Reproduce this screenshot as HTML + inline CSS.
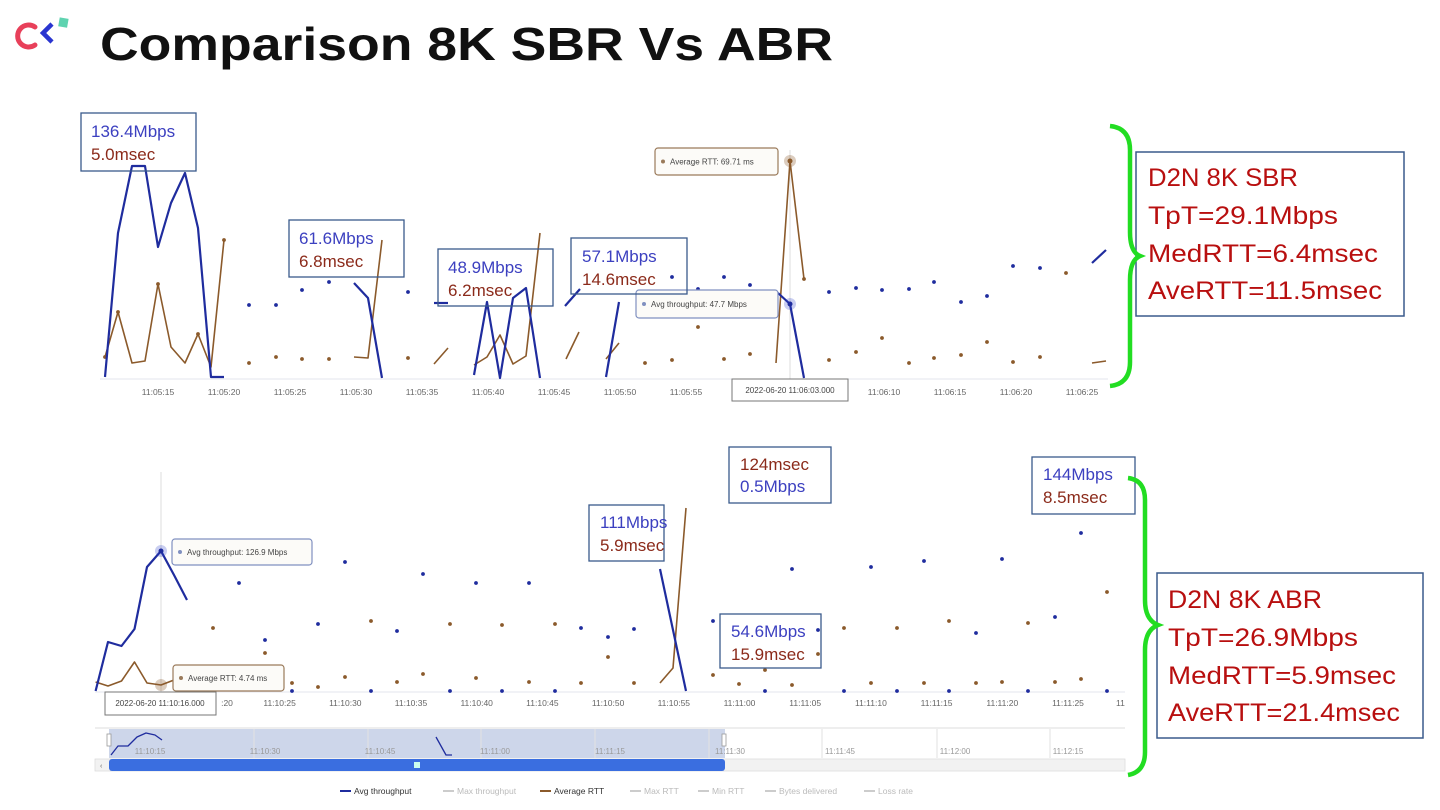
<!DOCTYPE html>
<html><head><meta charset="utf-8"><style>
html,body{margin:0;padding:0;background:#fff;width:1440px;height:810px;overflow:hidden}
svg{display:block}
text{font-family:"Liberation Sans",sans-serif}
</style></head><body>
<svg id="s" width="1440" height="810" viewBox="0 0 1440 810" xmlns="http://www.w3.org/2000/svg">
<path d="M35 27 A11 11 0 1 0 35 45" fill="none" stroke="#e8405a" stroke-width="5" stroke-linecap="round"/>
<path d="M52 24 L43 33 L52 42" fill="none" stroke="#2a35d0" stroke-width="4.5"/>
<rect x="59" y="18" width="9" height="9" fill="#5fd3b0" transform="rotate(10 63 22)"/>
<text x="100" y="60" font-size="46" font-weight="bold" fill="#111" textLength="733" lengthAdjust="spacingAndGlyphs">Comparison 8K SBR Vs ABR</text>

<g id="top"></g>
<g id="bot"></g>

<g font-size="17">
<rect x="81" y="113" width="115" height="58" fill="none" stroke="#3a5a8c" stroke-width="1.3"/>
<text x="91" y="137" fill="#3c40c0">136.4Mbps</text><text x="91" y="160" fill="#8b2a1a">5.0msec</text>
<rect x="289" y="220" width="115" height="57" fill="none" stroke="#3a5a8c" stroke-width="1.3"/>
<text x="299" y="244" fill="#3c40c0">61.6Mbps</text><text x="299" y="267" fill="#8b2a1a">6.8msec</text>
<rect x="438" y="249" width="115" height="57" fill="none" stroke="#3a5a8c" stroke-width="1.3"/>
<text x="448" y="273" fill="#3c40c0">48.9Mbps</text><text x="448" y="296" fill="#8b2a1a">6.2msec</text>
<rect x="571" y="238" width="116" height="56" fill="none" stroke="#3a5a8c" stroke-width="1.3"/>
<text x="582" y="262" fill="#3c40c0">57.1Mbps</text><text x="582" y="285" fill="#8b2a1a">14.6msec</text>
<rect x="729" y="447" width="102" height="56" fill="#fff" stroke="#3a5a8c" stroke-width="1.3"/>
<text x="740" y="470" fill="#8b2a1a">124msec</text><text x="740" y="492" fill="#3c40c0">0.5Mbps</text>
<rect x="589" y="505" width="75" height="56" fill="none" stroke="#3a5a8c" stroke-width="1.3"/>
<text x="600" y="528" fill="#3c40c0">111Mbps</text><text x="600" y="551" fill="#8b2a1a">5.9msec</text>
<rect x="720" y="614" width="101" height="54" fill="none" stroke="#3a5a8c" stroke-width="1.3"/>
<text x="731" y="637" fill="#3c40c0">54.6Mbps</text><text x="731" y="660" fill="#8b2a1a">15.9msec</text>
<rect x="1032" y="457" width="103" height="57" fill="#fff" stroke="#3a5a8c" stroke-width="1.3"/>
<text x="1043" y="480" fill="#3c40c0">144Mbps</text><text x="1043" y="503" fill="#8b2a1a">8.5msec</text>
</g>

<g font-size="25" fill="#b80f0f">
<rect x="1136" y="152" width="268" height="164" fill="#fff" stroke="#3a5a8c" stroke-width="1.5"/>
<text x="1148" y="186" textLength="150" lengthAdjust="spacingAndGlyphs">D2N 8K SBR</text><text x="1148" y="224" textLength="190" lengthAdjust="spacingAndGlyphs">TpT=29.1Mbps</text>
<text x="1148" y="262" textLength="230" lengthAdjust="spacingAndGlyphs">MedRTT=6.4msec</text><text x="1148" y="299" textLength="234" lengthAdjust="spacingAndGlyphs">AveRTT=11.5msec</text>
<rect x="1157" y="573" width="266" height="165" fill="#fff" stroke="#3a5a8c" stroke-width="1.5"/>
<text x="1168" y="608" textLength="154" lengthAdjust="spacingAndGlyphs">D2N 8K ABR</text><text x="1168" y="646" textLength="190" lengthAdjust="spacingAndGlyphs">TpT=26.9Mbps</text>
<text x="1168" y="684" textLength="228" lengthAdjust="spacingAndGlyphs">MedRTT=5.9msec</text><text x="1168" y="721" textLength="232" lengthAdjust="spacingAndGlyphs">AveRTT=21.4msec</text>
</g>
<path d="M1110 126 Q1130 128 1130 150 L1130 232 Q1130 252 1140 256 Q1130 260 1130 280 L1130 362 Q1130 384 1110 386" fill="none" stroke="#22dd22" stroke-width="4.5"/>
<path d="M1128 478 Q1145 480 1145 500 L1145 600 Q1145 620 1158 625 Q1145 630 1145 650 L1145 752 Q1145 772 1128 775" fill="none" stroke="#22dd22" stroke-width="4.5"/>
</svg>
<script>
const NS="http://www.w3.org/2000/svg";
function el(p,tag,a,txt){const e=document.createElementNS(NS,tag);for(const k in a)e.setAttribute(k,a[k]);if(txt!==undefined)e.textContent=txt;p.appendChild(e);return e;}
const B="#1f2c9e",R="#8b5a2b";
function line(g,pts,c,w){el(g,"polyline",{points:pts.map(p=>p.join(",")).join(" "),fill:"none",stroke:c,"stroke-width":w||2.2,"stroke-linejoin":"round"});}
function dots(g,pts,c){pts.forEach(p=>el(g,"circle",{cx:p[0],cy:p[1],r:1.9,fill:c}));}
function tip(g,x,y,w,h,c,txt){el(g,"rect",{x:x,y:y,width:w,height:h,rx:3,fill:"#fcfbf8",stroke:c,"stroke-width":1.2});el(g,"circle",{cx:x+8,cy:y+h/2,r:2,fill:c});el(g,"text",{x:x+15,y:y+h/2+3,"font-size":8,fill:"#444"},txt);}
const t=document.getElementById("top");
el(t,"line",{x1:100,y1:379,x2:1108,y2:379,stroke:"#e3e6ee","stroke-width":1});
el(t,"line",{x1:790,y1:150,x2:790,y2:379,stroke:"#ddd","stroke-width":1});
[[158,"11:05:15"],[224,"11:05:20"],[290,"11:05:25"],[356,"11:05:30"],[422,"11:05:35"],[488,"11:05:40"],[554,"11:05:45"],[620,"11:05:50"],[686,"11:05:55"],[884,"11:06:10"],[950,"11:06:15"],[1016,"11:06:20"],[1082,"11:06:25"]].forEach(a=>el(t,"text",{x:a[0],y:395,"font-size":8.5,fill:"#666","text-anchor":"middle"},a[1]));
line(t,[[105,357],[118,312],[132,363],[145,361],[158,284],[171,347],[185,363],[198,334],[211,367],[224,240]],R,1.6);
line(t,[[354,357],[368,358],[382,240]],R,1.6);
line(t,[[434,364],[448,348]],R,1.6);
line(t,[[474,365],[487,357],[500,335],[513,364],[526,356],[540,233]],R,1.6);
line(t,[[566,359],[579,332]],R,1.6);line(t,[[606,359],[619,343]],R,1.6);
line(t,[[776,363],[790,161],[804,279]],R,1.6);line(t,[[1092,363],[1106,361]],R,1.6);
dots(t,[[105,357],[118,312],[158,284],[198,334],[224,240],[249,363],[276,357],[302,359],[329,359],[408,358],[645,363],[672,360],[698,327],[724,359],[750,354],[804,279],[829,360],[856,352],[882,338],[909,363],[934,358],[961,355],[987,342],[1013,362],[1040,357],[1066,273]],R);
line(t,[[105,377],[118,233],[132,166],[145,166],[158,247],[171,203],[185,173],[198,228],[211,377],[224,377]],B);
line(t,[[354,283],[368,298],[382,378]],B);line(t,[[434,303],[448,303]],B);
line(t,[[474,375],[487,302],[500,378],[513,298],[526,288],[540,378]],B);
line(t,[[565,306],[580,289]],B);line(t,[[606,377],[619,302]],B);
line(t,[[778,293],[790,304],[804,378]],B);line(t,[[1092,263],[1106,250]],B);
dots(t,[[249,305],[276,305],[302,290],[329,282],[408,292],[672,277],[698,289],[724,277],[750,285],[829,292],[856,288],[882,290],[909,289],[934,282],[961,302],[987,296],[1013,266],[1040,268]],B);
el(t,"circle",{cx:790,cy:161,r:6,fill:"rgba(139,90,43,0.3)"});el(t,"circle",{cx:790,cy:161,r:2.5,fill:R});
el(t,"circle",{cx:790,cy:304,r:6,fill:"rgba(40,60,200,0.25)"});el(t,"circle",{cx:790,cy:304,r:2.5,fill:B});
tip(t,655,148,123,27,"#9a7a5a","Average RTT: 69.71 ms");
tip(t,636,290,142,28,"#8090c0","Avg throughput: 47.7 Mbps");
el(t,"rect",{x:732,y:379,width:116,height:22,fill:"#fff",stroke:"#777","stroke-width":1});
el(t,"text",{x:790,y:393,"font-size":8,fill:"#444","text-anchor":"middle"},"2022-06-20 11:06:03.000");
const b=document.getElementById("bot");
el(b,"line",{x1:95,y1:692,x2:1125,y2:692,stroke:"#e3e6ee","stroke-width":1});
el(b,"line",{x1:161,y1:472,x2:161,y2:692,stroke:"#ddd","stroke-width":1});
el(b,"text",{x:227,y:706,"font-size":8.5,fill:"#666","text-anchor":"middle"},":20");
const bl=["11:10:25","11:10:30","11:10:35","11:10:40","11:10:45","11:10:50","11:10:55","11:11:00","11:11:05","11:11:10","11:11:15","11:11:20","11:11:25"];
bl.forEach((s,i)=>el(b,"text",{x:279.6+i*65.7,y:706,"font-size":8.5,fill:"#666","text-anchor":"middle"},s));
el(b,"text",{x:1116,y:706,"font-size":8.5,fill:"#666"},"11");
line(b,[[95.6,682],[108,686],[121.5,681],[134.5,662],[147,683],[161,685],[174,680],[187,676]],R,1.6);
line(b,[[660,683],[673,668],[686,508]],R,1.6);
dots(b,[[213,628],[265,653],[292,683],[318,687],[345,677],[371,621],[397,682],[423,674],[450,624],[476,678],[502,625],[529,682],[555,624],[581,683],[608,657],[634,683],[713,675],[739,684],[765,670],[792,685],[818,654],[844,628],[871,683],[897,628],[924,683],[949,621],[976,683],[1002,682],[1028,623],[1055,682],[1081,679],[1107,592]],R);
line(b,[[95.6,691],[108,642],[121.5,646],[134.5,629],[147,567],[161,551],[174,575],[187,600]],B);
line(b,[[660,569],[686,691]],B);
dots(b,[[239,583],[265,640],[292,691],[318,624],[345,562],[371,691],[397,631],[423,574],[450,691],[476,583],[502,691],[529,583],[555,691],[581,628],[608,637],[634,629],[713,621],[765,691],[792,569],[818,630],[844,691],[871,567],[897,691],[924,561],[949,691],[976,633],[1002,559],[1028,691],[1055,617],[1081,533],[1107,691]],B);
el(b,"circle",{cx:161,cy:551,r:6,fill:"rgba(40,60,200,0.25)"});el(b,"circle",{cx:161,cy:551,r:2.5,fill:B});
el(b,"circle",{cx:161,cy:685,r:6,fill:"rgba(139,90,43,0.3)"});
tip(b,172,539,140,26,"#8090c0","Avg throughput: 126.9 Mbps");
tip(b,173,665,111,26,"#9a7a5a","Average RTT: 4.74 ms");
el(b,"rect",{x:105,y:692,width:111,height:23,fill:"#fff",stroke:"#777","stroke-width":1});
el(b,"text",{x:160,y:706,"font-size":8,fill:"#444","text-anchor":"middle"},"2022-06-20 11:10:16.000");
el(b,"line",{x1:95,y1:728,x2:1125,y2:728,stroke:"#ddd"});
el(b,"rect",{x:109,y:729,width:616,height:29,fill:"#cdd6ea"});
[254,368,481,595,709,822,937,1050].forEach(x=>el(b,"line",{x1:x,y1:729,x2:x,y2:758,stroke:"#e2e2e2"}));
[[150,"11:10:15"],[265,"11:10:30"],[380,"11:10:45"],[495,"11:11:00"],[610,"11:11:15"],[730,"11:11:30"],[840,"11:11:45"],[955,"11:12:00"],[1068,"11:12:15"]].forEach(a=>el(b,"text",{x:a[0],y:754,"font-size":8,fill:"#999","text-anchor":"middle"},a[1]));
line(b,[[111,755],[118,746],[128,746],[137,737],[146,733],[155,735],[162,740]],B,1.3);
line(b,[[436,737],[446,755],[452,755]],B,1.3);
el(b,"rect",{x:107,y:734,width:4,height:12,fill:"#fff",stroke:"#999","stroke-width":0.8});
el(b,"rect",{x:722,y:734,width:4,height:12,fill:"#fff",stroke:"#999","stroke-width":0.8});
el(b,"rect",{x:95,y:759,width:1030,height:12,fill:"#f2f2f2",stroke:"#ddd","stroke-width":0.8});
el(b,"rect",{x:109,y:759,width:616,height:12,rx:3,fill:"#3a6ee0"});
el(b,"rect",{x:414,y:762,width:6,height:6,fill:"#cfe"});
el(b,"text",{x:100,y:768,"font-size":7,fill:"#666"},"‹");
[[340,"Avg throughput",B,"#333"],[443,"Max throughput","#ccc","#bbb"],[540,"Average RTT",R,"#333"],[630,"Max RTT","#ccc","#bbb"],[698,"Min RTT","#ccc","#bbb"],[765,"Bytes delivered","#ccc","#bbb"],[864,"Loss rate","#ccc","#bbb"]].forEach(a=>{el(b,"line",{x1:a[0],y1:791,x2:a[0]+11,y2:791,stroke:a[2],"stroke-width":2});el(b,"text",{x:a[0]+14,y:794,"font-size":8.5,fill:a[3]},a[1]);});
</script>
</body></html>
